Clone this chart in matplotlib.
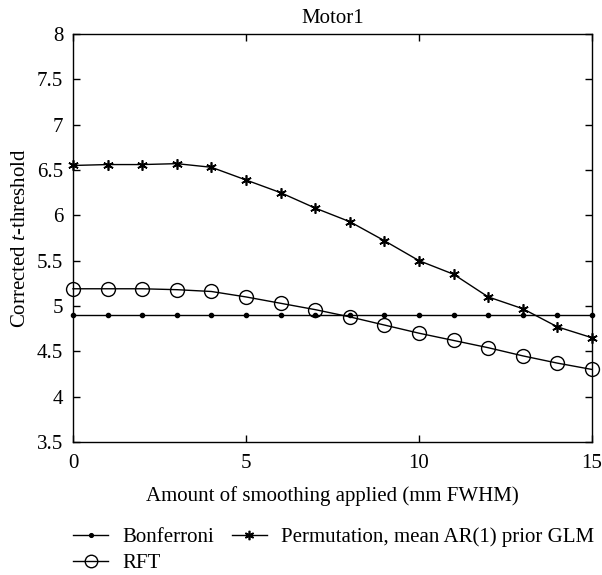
import matplotlib
matplotlib.use("Agg")
import matplotlib.pyplot as plt

plt.rcParams['font.family'] = ['Liberation Serif', 'DejaVu Serif']
plt.rcParams['mathtext.fontset'] = 'custom'
plt.rcParams['mathtext.it'] = 'Liberation Serif:italic'
plt.rcParams['mathtext.rm'] = 'Liberation Serif'

smoothing = list(range(16))
bonferroni = [4.90] * 16
permutation = [6.55, 6.56, 6.56, 6.57, 6.53, 6.39, 6.25, 6.08, 5.93, 5.72,
               5.50, 5.35, 5.10, 4.97, 4.77, 4.65]
rft = [5.19, 5.19, 5.19, 5.18, 5.16, 5.10, 5.03, 4.96, 4.88, 4.79,
       4.70, 4.62, 4.54, 4.45, 4.37, 4.30]

FS = 15

fig = plt.figure(figsize=(6.02, 5.75), dpi=100)
ax = fig.add_axes([73 / 602, 133 / 575, 519 / 602, 408 / 575])

lb, = ax.plot(smoothing, bonferroni, color='black', lw=1, marker='o',
              markersize=3, label='Bonferroni', clip_on=False)
lr, = ax.plot(smoothing, rft, color='black', lw=1, marker='o',
              markersize=10, markerfacecolor='none', markeredgewidth=1,
              label='RFT', clip_on=False)
lp, = ax.plot(smoothing, permutation, color='black', lw=1, marker=(6, 2, 0),
              markersize=7.5, markeredgewidth=1.2,
              label='Permutation, mean AR(1) prior GLM', clip_on=False)

ax.set_xlim(0, 15)
ax.set_ylim(3.5, 8)
ax.set_xticks([0, 5, 10, 15])
ax.set_yticks([3.5, 4, 4.5, 5, 5.5, 6, 6.5, 7, 7.5, 8])
ax.set_yticklabels(['3.5', '4', '4.5', '5', '5.5', '6', '6.5', '7', '7.5', '8'])
ax.tick_params(direction='in', top=True, right=True, labelsize=FS,
               length=5, width=1)
ax.tick_params(axis='x', pad=9)
ax.tick_params(axis='y', pad=7)
for s in ax.spines.values():
    s.set_linewidth(1)

ax.set_title('Motor1', fontsize=FS, pad=8)
ax.set_xlabel('Amount of smoothing applied (mm FWHM)', fontsize=FS, labelpad=9)
ax.set_ylabel('Corrected $t$-threshold', fontsize=FS, labelpad=5)

fig.legend(handles=[lb, lr, lp], ncol=2, frameon=False, fontsize=FS,
           loc='upper left', bbox_to_anchor=(73 / 602, 0.083),
           handlelength=1.68, handletextpad=0.67, columnspacing=0.86,
           labelspacing=0.3, borderaxespad=0, borderpad=0, markerscale=0.9)

fig.savefig('out.png', dpi=100)
